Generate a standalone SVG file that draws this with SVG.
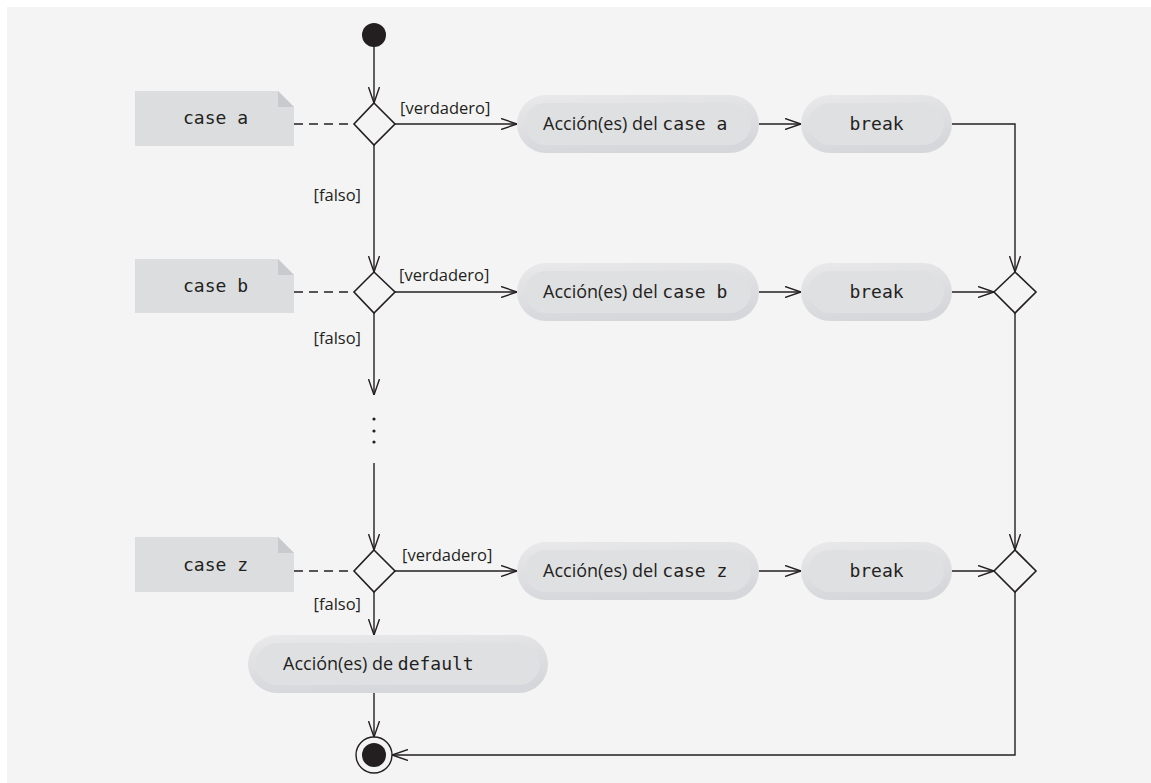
<svg xmlns="http://www.w3.org/2000/svg" width="1151" height="783" viewBox="0 0 1151 783">
<defs>
<linearGradient id="ring" x1="0" y1="0" x2="0.3" y2="1">
<stop offset="0" stop-color="#e9e9eb"/>
<stop offset="1" stop-color="#d6d7da"/>
</linearGradient>
<marker id="arr" viewBox="0 0 16 12" refX="16" refY="6" markerWidth="16" markerHeight="12" markerUnits="userSpaceOnUse" orient="auto">
<path d="M0,0.5 L16,6 L0,11.5" fill="none" stroke="#231f20" stroke-width="1.4"/>
</marker>
</defs>
<style>
.ln{fill:none;stroke:#231f20;stroke-width:1.4}
.dash{fill:none;stroke:#231f20;stroke-width:1.4;stroke-dasharray:9,6}
.dec{fill:#f4f4f4;stroke:#231f20;stroke-width:1.6}
.outer{fill:url(#ring)}
.inner{fill:#dfe0e2}
.note{fill:#dcdddf}
.fold{fill:#c9cacd}
.sans{font-family:"Open Sans","Noto Sans",sans-serif;fill:#231f20}
.mono{font-family:"DejaVu Sans Mono","Liberation Mono",monospace;fill:#231f20}
.g{font-size:16.5px}
</style>
<rect x="0" y="0" width="1151" height="783" fill="#ffffff"/>
<rect x="7" y="7" width="1144" height="776" fill="#f4f4f4"/>

<g id="connectors">
<line class="ln" x1="374" y1="46" x2="374" y2="103" marker-end="url(#arr)"/>
<line class="ln" x1="395" y1="124" x2="517" y2="124" marker-end="url(#arr)"/>
<line class="ln" x1="759" y1="124" x2="801" y2="124" marker-end="url(#arr)"/>
<polyline class="ln" points="952,124 1015,124 1015,272" marker-end="url(#arr)"/>
<line class="ln" x1="374" y1="145" x2="374" y2="272" marker-end="url(#arr)"/>
<line class="ln" x1="395" y1="292" x2="517" y2="292" marker-end="url(#arr)"/>
<line class="ln" x1="759" y1="292" x2="801" y2="292" marker-end="url(#arr)"/>
<line class="ln" x1="952" y1="292" x2="994" y2="292" marker-end="url(#arr)"/>
<line class="ln" x1="374" y1="313" x2="374" y2="395" marker-end="url(#arr)"/>
<line class="ln" x1="374" y1="463" x2="374" y2="550" marker-end="url(#arr)"/>
<line class="ln" x1="395" y1="571" x2="517" y2="571" marker-end="url(#arr)"/>
<line class="ln" x1="759" y1="571" x2="801" y2="571" marker-end="url(#arr)"/>
<line class="ln" x1="952" y1="571" x2="994" y2="571" marker-end="url(#arr)"/>
<line class="ln" x1="1015" y1="313" x2="1015" y2="550" marker-end="url(#arr)"/>
<line class="ln" x1="374" y1="592" x2="374" y2="635" marker-end="url(#arr)"/>
<line class="ln" x1="374" y1="693" x2="374" y2="737" marker-end="url(#arr)"/>
<polyline class="ln" points="1015,592 1015,755 392,755" marker-end="url(#arr)"/>
<line class="dash" x1="294" y1="124" x2="354" y2="124"/>
<line class="dash" x1="294" y1="292" x2="354" y2="292"/>
<line class="dash" x1="294" y1="571" x2="354" y2="571"/>
<circle cx="374" cy="419" r="1.6" fill="#231f20"/>
<circle cx="374" cy="431" r="1.6" fill="#231f20"/>
<circle cx="374" cy="442" r="1.6" fill="#231f20"/>
<text class="sans g" x="400" y="114">[verdadero]</text>
<text class="sans g" x="399" y="281">[verdadero]</text>
<text class="sans g" x="402" y="561">[verdadero]</text>
<text class="sans g" x="361" y="201" text-anchor="end">[falso]</text>
<text class="sans g" x="361" y="344" text-anchor="end">[falso]</text>
<text class="sans g" x="361" y="610" text-anchor="end">[falso]</text>
</g>

<g id="start"><circle cx="374" cy="35" r="12" fill="#231f20"/></g>

<g id="noteA">
<path class="note" d="M135,91 H278 L294,107 V146 H135 Z"/>
<path class="fold" d="M278,91 L294,107 H278 Z"/>
<text class="mono" font-size="18" x="183" y="124">case a</text>
</g>
<g id="noteB">
<path class="note" d="M135,259 H278 L294,275 V313 H135 Z"/>
<path class="fold" d="M278,259 L294,275 H278 Z"/>
<text class="mono" font-size="18" x="183" y="292">case b</text>
</g>
<g id="noteZ">
<path class="note" d="M135,537 H278 L294,553 V592 H135 Z"/>
<path class="fold" d="M278,537 L294,553 H278 Z"/>
<text class="mono" font-size="18" x="183" y="571">case z</text>
</g>

<g id="decA"><polygon class="dec" points="374,103 395,124 374,145 354,124"/></g>
<g id="decB"><polygon class="dec" points="374,272 395,292 374,313 354,292"/></g>
<g id="decZ"><polygon class="dec" points="374,550 395,571 374,592 354,571"/></g>
<g id="mergeB"><polygon class="dec" points="1015,272 1036,292 1015,313 994,292"/></g>
<g id="mergeZ"><polygon class="dec" points="1015,550 1036,571 1015,592 994,571"/></g>

<g id="actA">
<rect class="outer" x="517" y="95" width="242" height="58" rx="29"/>
<rect class="inner" x="525" y="103" width="226" height="42" rx="21"/>
<text class="sans" font-size="18" x="543" y="130">Acción(es) del <tspan class="mono" font-size="18">case a</tspan></text>
</g>
<g id="breakA">
<rect class="outer" x="801" y="95" width="151" height="58" rx="29"/>
<rect class="inner" x="809" y="103" width="135" height="42" rx="21"/>
<text class="mono" font-size="18" x="876.5" y="130" text-anchor="middle">break</text>
</g>
<g id="actB">
<rect class="outer" x="517" y="263" width="242" height="58" rx="29"/>
<rect class="inner" x="525" y="271" width="226" height="42" rx="21"/>
<text class="sans" font-size="18" x="543" y="298">Acción(es) del <tspan class="mono" font-size="18">case b</tspan></text>
</g>
<g id="breakB">
<rect class="outer" x="801" y="263" width="151" height="58" rx="29"/>
<rect class="inner" x="809" y="271" width="135" height="42" rx="21"/>
<text class="mono" font-size="18" x="876.5" y="298" text-anchor="middle">break</text>
</g>
<g id="actZ">
<rect class="outer" x="517" y="542" width="242" height="58" rx="29"/>
<rect class="inner" x="525" y="550" width="226" height="42" rx="21"/>
<text class="sans" font-size="18" x="543" y="577">Acción(es) del <tspan class="mono" font-size="18">case z</tspan></text>
</g>
<g id="breakZ">
<rect class="outer" x="801" y="542" width="151" height="58" rx="29"/>
<rect class="inner" x="809" y="550" width="135" height="42" rx="21"/>
<text class="mono" font-size="18" x="876.5" y="577" text-anchor="middle">break</text>
</g>
<g id="default">
<rect class="outer" x="248" y="635" width="300" height="58" rx="29"/>
<rect class="inner" x="256" y="643" width="284" height="42" rx="21"/>
<text class="sans" font-size="18" x="283" y="670">Acción(es) de <tspan class="mono" font-size="18">default</tspan></text>
</g>

<g id="end">
<circle cx="374" cy="755" r="18" fill="#f4f4f4" stroke="#231f20" stroke-width="1.4"/>
<circle cx="374" cy="755" r="12" fill="#231f20"/>
</g>
</svg>
